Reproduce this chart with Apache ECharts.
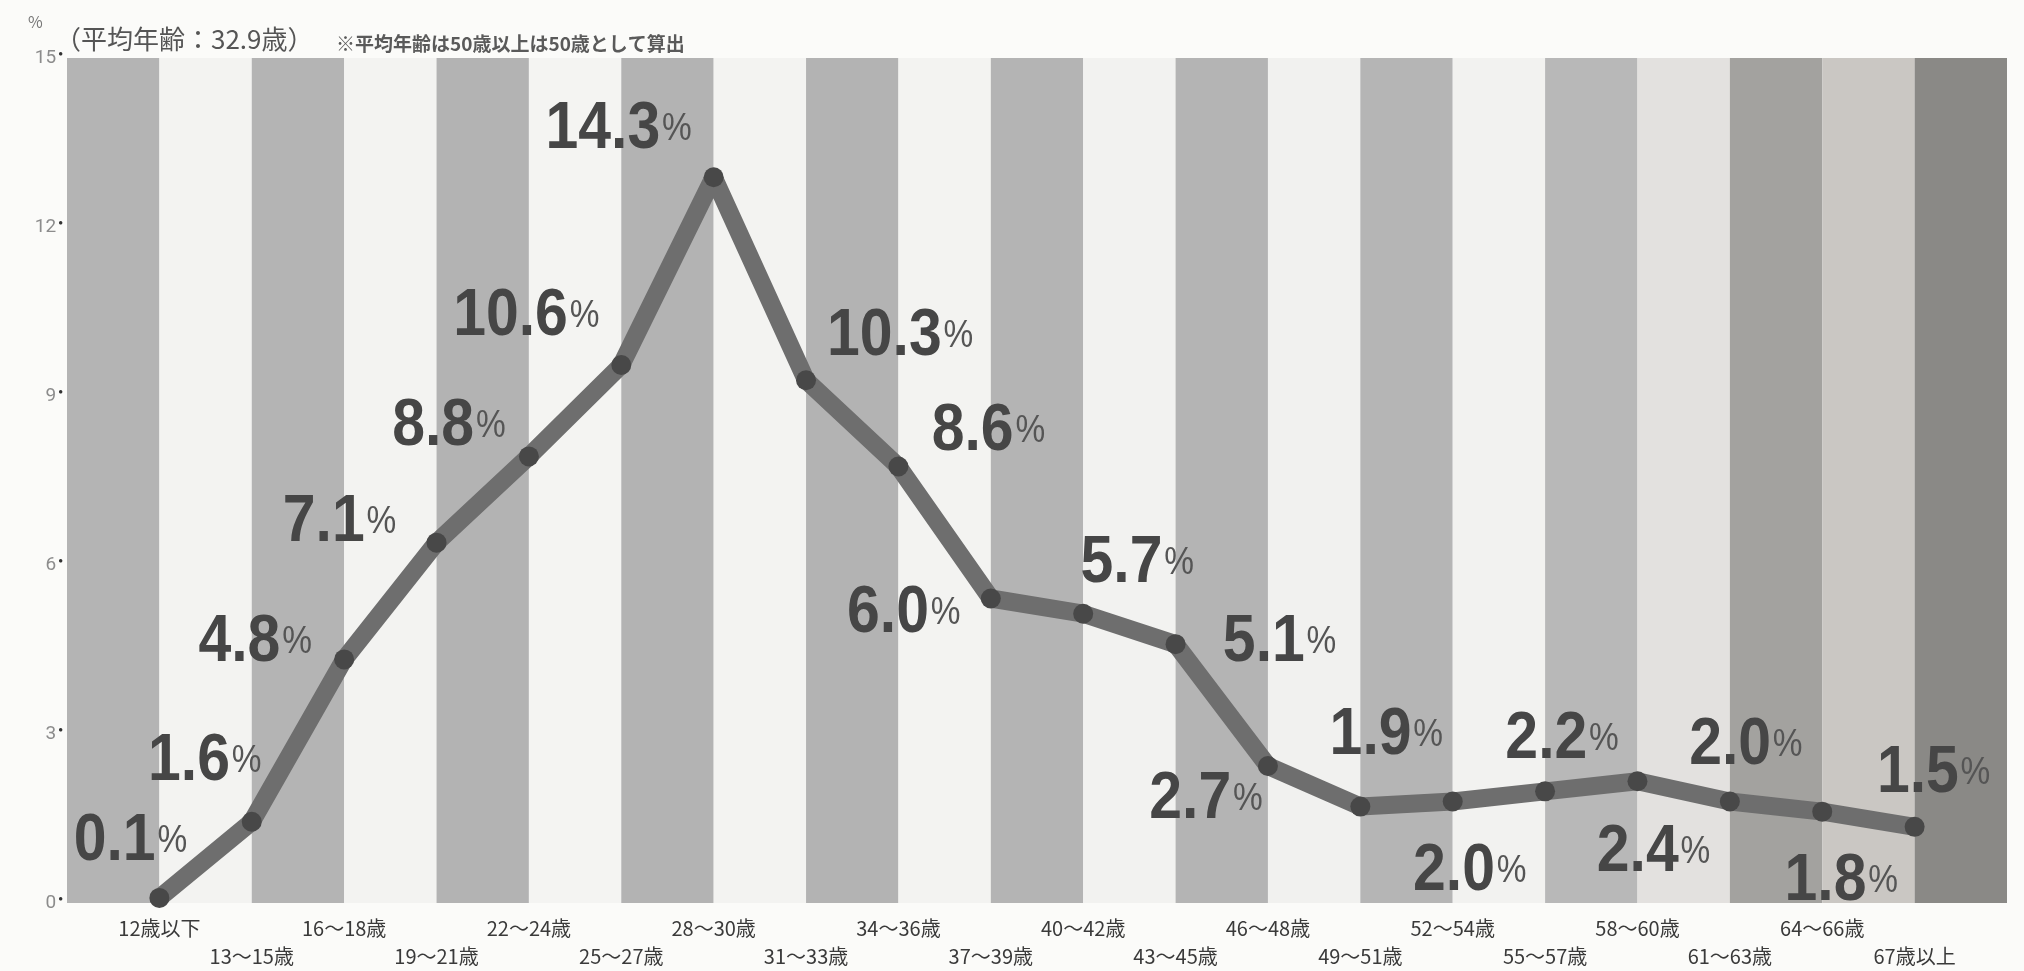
<!DOCTYPE html>
<html>
<head>
<meta charset="utf-8">
<script src="https://cdn.jsdelivr.net/npm/echarts@6/dist/echarts.min.js"></script>
<style>
  html, body { margin: 0; padding: 0; background: #fbfbf9; }
  #chart { width: 2024px; height: 971px; }
</style>
</head>
<body>
<div id="chart"></div>
<script>
// 年齢区分
var ageGroups = ['12歳以下', '13〜15歳', '16〜18歳', '19〜21歳', '22〜24歳', '25〜27歳', '28〜30歳',
  '31〜33歳', '34〜36歳', '37〜39歳', '40〜42歳', '43〜45歳', '46〜48歳', '49〜51歳', '52〜54歳',
  '55〜57歳', '58〜60歳', '61〜63歳', '64〜66歳', '67歳以上'];
// 割合 (%)
var shares = [0.1, 1.6, 4.8, 7.1, 8.8, 10.6, 14.3, 10.3, 8.6, 6.0, 5.7, 5.1, 2.7, 1.9, 2.0, 2.2, 2.4, 2.0, 1.8, 1.5];
// 目盛
var yTicks = [0, 3, 6, 9, 12, 15];

// ラベルの位置ずらし (点からの px)
var labelOffsets = [[-29, -56], [-47, -60], [-89, -17], [-97, -20], [-80, -30], [-95, -49], [-95, -48],
  [94, -44], [90, -35], [-87, 15], [54, -50], [104, -2], [-62, 34], [26, -71], [17, 70], [17, -52],
  [16, 71], [16, -56], [19, 70], [19, -53]];

// 縦じまの色
var stripeColors = ['#b4b4b4', '#f3f3f1', '#b4b4b4', '#f3f3f1', '#b3b3b3', '#f4f4f2', '#b3b3b3',
  '#f3f3f1', '#b3b3b3', '#f3f3f1', '#b4b4b4', '#f2f2f0', '#b4b4b4', '#f1f1ef', '#b5b5b5', '#f2f2f0',
  '#b8b8b8', '#e3e1df', '#a3a29f', '#cac7c3', '#8a8986'];

var myChart = echarts.init(document.getElementById('chart'));

var points = shares.map(function (v, i) { return [i + 1, v]; });

// 数値ラベル (横に少しつぶした文字)
function renderLabel(params, api) {
  var pt = api.coord([api.value(0), api.value(1)]);
  var off = labelOffsets[params.dataIndex];
  return {
    type: 'text',
    x: pt[0] + off[0],
    y: pt[1] + off[1],
    scaleX: 0.88,
    silent: true,
    style: {
      text: '{n|' + api.value(1).toFixed(1) + '}{p|%}',
      align: 'center',
      verticalAlign: 'middle',
      rich: {
        n: { fontSize: 67, lineHeight: 68, fontWeight: 'bold', fill: '#464646',
             fontFamily: '"Liberation Sans", Arial, sans-serif' },
        p: { fontSize: 38, lineHeight: 68, fill: '#555',
             fontFamily: '"Liberation Sans", Arial, sans-serif', padding: [0, 0, 0, 2] }
      }
    }
  };
}

var option = {
  backgroundColor: '#fbfbf9',
  animation: false,
  graphic: [
    { type: 'text', left: 28, top: 14, style: { text: '%', font: '16px "Noto Sans CJK JP"', fill: '#777' } },
    { type: 'text', left: 55, top: 26, style: { text: '（平均年齢：32.9歳）', font: '26px "Noto Sans CJK JP"', fill: '#555' } },
    { type: 'text', left: 336, top: 34, style: { text: '※平均年齢は50歳以上は50歳として算出', font: 'bold 19px "Noto Sans CJK JP"', fill: '#5a5a5a' } }
  ],
  grid: { left: 67, right: 17, top: 58, bottom: 68 },
  xAxis: {
    type: 'value',
    min: 0,
    max: ageGroups.length + 1,
    interval: 1,
    axisLine: { show: false },
    axisTick: { show: false },
    splitLine: { show: false },
    splitArea: { show: true, areaStyle: { color: stripeColors } },
    axisLabel: {
      margin: 11,
      fontSize: 20,
      lineHeight: 28,
      color: '#3a3a3a',
      fontFamily: '"Noto Sans CJK JP", sans-serif',
      formatter: function (v) {
        var name = ageGroups[v - 1];
        if (!name) return '';
        return (v - 1) % 2 === 0 ? name : '\n' + name;
      }
    }
  },
  yAxis: [
    {
      type: 'value',
      min: yTicks[0],
      max: yTicks[yTicks.length - 1],
      interval: yTicks[1] - yTicks[0],
      axisLine: { show: false },
      axisTick: { show: false },
      splitLine: { show: false },
      axisLabel: {
        margin: 4,
        formatter: function (v) { return '{v|' + v + '}{d|●}'; },
        rich: {
          v: { fontSize: 19, color: '#8c8c8c', fontFamily: 'Roboto, sans-serif' },
          d: { fontSize: 8, color: '#333', padding: [0, 0, 8, 2] }
        }
      }
    },
    {
      // 折れ線用 (図の縮尺に合わせる)
      type: 'value',
      min: 0,
      max: 16.65,
      show: false
    }
  ],
  series: [
    {
      type: 'line',
      yAxisIndex: 1,
      data: points,
      symbol: 'circle',
      symbolSize: 20,
      lineStyle: { width: 18, color: '#6e6e6e', cap: 'round', join: 'round' },
      itemStyle: { color: '#484848' },
      emphasis: { disabled: true },
      z: 2
    },
    {
      type: 'custom',
      yAxisIndex: 1,
      data: points,
      encode: { x: 0, y: 1 },
      renderItem: renderLabel,
      z: 3
    }
  ]
};

myChart.setOption(option);
</script>
</body>
</html>
